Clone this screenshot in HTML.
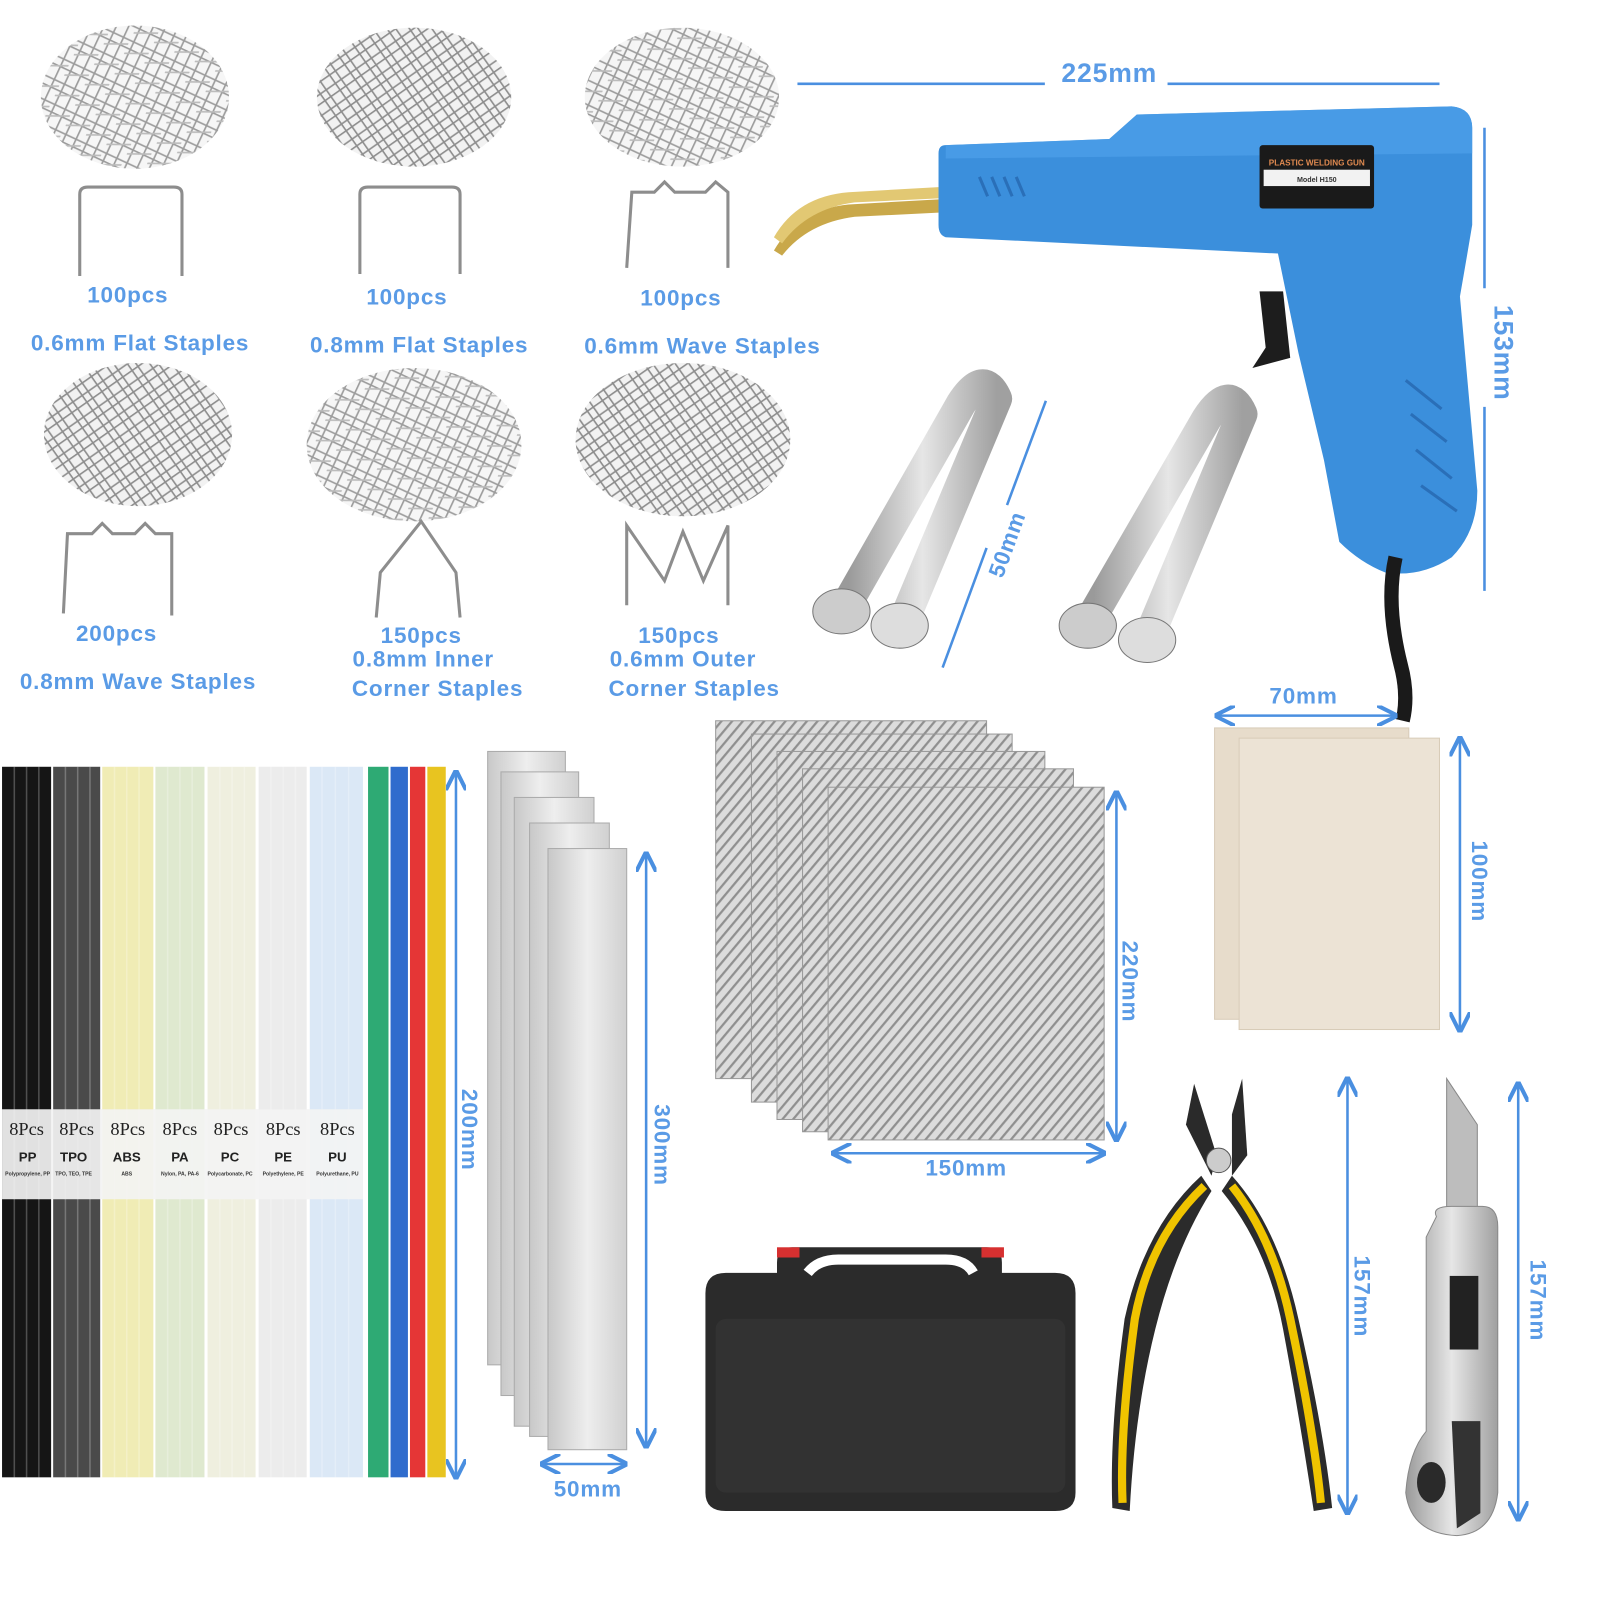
<!DOCTYPE html>
<html><head><meta charset="utf-8"><style>
html,body{margin:0;padding:0;background:#fff;width:1600px;height:1600px;overflow:hidden}
svg{display:block}
text{font-family:"Liberation Sans",sans-serif;font-weight:bold;fill:#5a9be6}
.lab{letter-spacing:0.8px}
</style></head><body>
<svg width="1600" height="1600" viewBox="0 0 1565 1565" xmlns="http://www.w3.org/2000/svg">
<defs>
<pattern id="wire" width="22" height="22" patternUnits="userSpaceOnUse" patternTransform="rotate(25)">
<rect width="22" height="22" fill="#f4f4f4"/>
<path d="M0 4H22M0 12H22M4 0V22M15 0V22" stroke="#8a8a8a" stroke-width="1.6"/>
<path d="M0 18L22 8" stroke="#b0b0b0" stroke-width="1.6"/>
</pattern>
<pattern id="wire2" width="18" height="18" patternUnits="userSpaceOnUse" patternTransform="rotate(-35)">
<rect width="18" height="18" fill="#f0f0f0"/>
<path d="M0 3H18M0 11H18M6 0V18M13 0V18" stroke="#7a7a7a" stroke-width="1.6"/>
</pattern>
<pattern id="mesh" width="8" height="8" patternUnits="userSpaceOnUse" patternTransform="rotate(-50)">
<rect width="8" height="8" fill="#dcdcdc"/>
<path d="M0 2H8" stroke="#8f8f8f" stroke-width="2.2"/>
</pattern>
<linearGradient id="alu" x1="0" x2="1"><stop offset="0" stop-color="#c8c8c8"/><stop offset=".5" stop-color="#eeeeee"/><stop offset="1" stop-color="#d0d0d0"/></linearGradient>
<linearGradient id="steel" x1="0" x2="1"><stop offset="0" stop-color="#9a9a9a"/><stop offset=".5" stop-color="#e6e6e6"/><stop offset="1" stop-color="#a0a0a0"/></linearGradient>
<marker id="ar" viewBox="0 0 10 10" refX="9" refY="5" markerWidth="8" markerHeight="8" orient="auto-start-reverse"><path d="M0 0L10 5L0 10" fill="none" stroke="#4a8fe0" stroke-width="2"/></marker>
</defs>

<!-- staple piles -->
<g opacity="0.85">
<ellipse cx="132" cy="95" rx="92" ry="70" fill="url(#wire)"/>
<ellipse cx="405" cy="95" rx="95" ry="68" fill="url(#wire2)"/>
<ellipse cx="667" cy="95" rx="95" ry="68" fill="url(#wire)"/>
<ellipse cx="135" cy="425" rx="92" ry="70" fill="url(#wire2)"/>
<ellipse cx="405" cy="435" rx="105" ry="75" fill="url(#wire)"/>
<ellipse cx="668" cy="430" rx="105" ry="75" fill="url(#wire2)"/>
</g>
<!-- staple shapes -->
<g fill="none" stroke="#8d8d8d" stroke-width="3">
<path d="M78 270V190Q78 183 86 183H170Q178 183 178 190V270"/>
<path d="M352 268V190Q352 183 360 183H442Q450 183 450 190V268"/>
<path d="M613 262L618 188H640L650 178L660 188H690L700 178L712 188V262"/>
<path d="M62 600L66 522H90L100 512L110 522H132L142 512L152 522H168V602"/>
<path d="M368 604L372 560L412 510L446 560L450 604"/>
<path d="M613 592V514L650 568L668 520L688 568L712 514V592"/>
</g>

<!-- staple labels -->
<g font-size="22" text-anchor="middle" class="lab">
<text x="125" y="296">100pcs</text>
<text x="137" y="343">0.6mm Flat Staples</text>
<text x="398" y="298">100pcs</text>
<text x="410" y="345">0.8mm Flat Staples</text>
<text x="666" y="299">100pcs</text>
<text x="687" y="346">0.6mm Wave Staples</text>
<text x="114" y="627">200pcs</text>
<text x="135" y="674">0.8mm Wave Staples</text>
<text x="412" y="629">150pcs</text>
<text x="414" y="652">0.8mm Inner</text>
<text x="428" y="681">Corner Staples</text>
<text x="664" y="629">150pcs</text>
<text x="668" y="652">0.6mm Outer</text>
<text x="679" y="681">Corner Staples</text>
</g>

<!-- gun -->
<line x1="780" y1="82" x2="1022" y2="82" stroke="#4a8fe0" stroke-width="2.5"/>
<line x1="1142" y1="82" x2="1408" y2="82" stroke="#4a8fe0" stroke-width="2.5"/>
<text x="1085" y="80" font-size="26" text-anchor="middle" class="lab">225mm</text>
<line x1="1452" y1="125" x2="1452" y2="282" stroke="#4a8fe0" stroke-width="2.5"/>
<line x1="1452" y1="398" x2="1452" y2="578" stroke="#4a8fe0" stroke-width="2.5"/>
<text transform="translate(1462,345) rotate(90)" font-size="26" text-anchor="middle" class="lab">153mm</text>
<path d="M757 245Q780 205 830 200L918 195V208L836 212Q790 218 765 250Z" fill="#c9a84a"/>
<path d="M757 232Q780 192 830 188L918 183V194L836 198Q790 204 765 238Z" fill="#e2c873"/>
<path d="M925 142L1085 136L1112 112L1420 104Q1440 106 1440 125V220Q1435 250 1428 290L1445 480Q1445 520 1420 545Q1390 565 1355 560Q1330 550 1310 530L1295 450L1270 345L1250 248L925 232Q918 230 918 220V150Q918 142 925 142Z" fill="#3b8fdc"/>
<path d="M925 142L1085 136L1112 112L1420 104Q1440 106 1440 125V150L925 155Z" fill="#4fa0ea" opacity=".7"/>
<path d="M1232 285H1255L1262 350L1225 360L1238 340Z" fill="#1d1d1d"/>
<rect x="1232" y="142" width="112" height="62" rx="3" fill="#1a1a1a"/>
<rect x="1236" y="166" width="104" height="16" fill="#f2f2f2"/>
<text x="1288" y="162" font-size="8" text-anchor="middle" style="fill:#e08a50">PLASTIC WELDING GUN</text>
<text x="1288" y="178" font-size="7" text-anchor="middle" style="fill:#333">Model H150</text>
<g stroke="#2a6fb8" stroke-width="3"><path d="M958 173L966 192M970 173L978 192M982 173L990 192M994 173L1002 192"/>
<path d="M1375 372L1410 400M1380 405L1415 432M1385 440L1420 468M1390 475L1425 500"/></g>
<path d="M1365 545Q1355 590 1370 650Q1378 680 1372 705" stroke="#1a1a1a" stroke-width="14" fill="none"/>

<!-- nozzles -->
<g fill="none" stroke="url(#steel)" stroke-width="30" stroke-linejoin="round" stroke-linecap="round">
<path d="M830 588L940 395Q962 360 975 390L885 605"/>
<path d="M1070 600L1180 410Q1202 375 1215 405L1125 620"/>
</g>
<g stroke="#777">
<ellipse cx="823" cy="598" rx="28" ry="22" fill="#ccc"/>
<ellipse cx="880" cy="612" rx="28" ry="22" fill="#ddd"/>
<ellipse cx="1064" cy="612" rx="28" ry="22" fill="#ccc"/>
<ellipse cx="1122" cy="626" rx="28" ry="22" fill="#ddd"/>
</g>
<line x1="1023" y1="392" x2="985" y2="494" stroke="#4a8fe0" stroke-width="2.5"/>
<line x1="965" y1="536" x2="922" y2="653" stroke="#4a8fe0" stroke-width="2.5"/>
<text transform="translate(992,535) rotate(-70)" font-size="22" text-anchor="middle" class="lab">50mm</text>

<!-- rods -->
<g>
<rect x="2" y="750" width="48" height="695" fill="#151515"/>
<rect x="52" y="750" width="46" height="695" fill="#4a4a4a"/>
<rect x="100" y="750" width="50" height="695" fill="#f0ecb5"/>
<rect x="152" y="750" width="48" height="695" fill="#dfe9cf"/>
<rect x="203" y="750" width="47" height="695" fill="#efefdf"/>
<rect x="253" y="750" width="47" height="695" fill="#ececec"/>
<rect x="303" y="750" width="52" height="695" fill="#dbe8f6"/>
<rect x="360" y="750" width="20" height="695" fill="#2eaa74"/>
<rect x="382" y="750" width="17" height="695" fill="#2f6ccd"/>
<rect x="401" y="750" width="15" height="695" fill="#e53636"/>
<rect x="418" y="750" width="18" height="695" fill="#e8c420"/>
<g stroke="#fff" stroke-opacity=".25" stroke-width="1.5">
<path d="M14 750V1445M26 750V1445M38 750V1445M64 750V1445M76 750V1445M88 750V1445M112 750V1445M124 750V1445M136 750V1445M164 750V1445M176 750V1445M188 750V1445M215 750V1445M227 750V1445M239 750V1445M265 750V1445M277 750V1445M289 750V1445M315 750V1445M328 750V1445M341 750V1445"/></g>
<rect x="2" y="1085" width="353" height="88" fill="#f3f3f3" opacity=".92"/>
<g font-size="18" text-anchor="middle">
<text x="26" y="1110" style="fill:#222;font-weight:normal;font-family:'Liberation Serif',serif">8Pcs</text>
<text x="75" y="1110" style="fill:#222;font-weight:normal;font-family:'Liberation Serif',serif">8Pcs</text>
<text x="125" y="1110" style="fill:#222;font-weight:normal;font-family:'Liberation Serif',serif">8Pcs</text>
<text x="176" y="1110" style="fill:#222;font-weight:normal;font-family:'Liberation Serif',serif">8Pcs</text>
<text x="226" y="1110" style="fill:#222;font-weight:normal;font-family:'Liberation Serif',serif">8Pcs</text>
<text x="277" y="1110" style="fill:#222;font-weight:normal;font-family:'Liberation Serif',serif">8Pcs</text>
<text x="330" y="1110" style="fill:#222;font-weight:normal;font-family:'Liberation Serif',serif">8Pcs</text>
</g>
<g font-size="13" text-anchor="middle">
<text x="27" y="1136" style="fill:#222">PP</text><text x="72" y="1136" style="fill:#222">TPO</text><text x="124" y="1136" style="fill:#222">ABS</text><text x="176" y="1136" style="fill:#222">PA</text><text x="225" y="1136" style="fill:#222">PC</text><text x="277" y="1136" style="fill:#222">PE</text><text x="330" y="1136" style="fill:#222">PU</text>
</g>
<g font-size="5" text-anchor="middle" style="font-weight:normal">
<text x="27" y="1150" style="fill:#333">Polypropylene, PP</text><text x="72" y="1150" style="fill:#333">TPO, TEO, TPE</text><text x="124" y="1150" style="fill:#333">ABS</text><text x="176" y="1150" style="fill:#333">Nylon, PA, PA-6</text><text x="225" y="1150" style="fill:#333">Polycarbonate, PC</text><text x="277" y="1150" style="fill:#333">Polyethylene, PE</text><text x="330" y="1150" style="fill:#333">Polyurethane, PU</text>
</g>
</g>
<line x1="446" y1="755" x2="446" y2="1445" stroke="#4a8fe0" stroke-width="2.5" marker-start="url(#ar)" marker-end="url(#ar)"/>
<text transform="translate(452,1105) rotate(90)" font-size="22" text-anchor="middle" class="lab">200mm</text>

<!-- aluminum strips -->
<g stroke="#aaa" stroke-width="1">
<rect x="477" y="735" width="76" height="600" fill="url(#alu)"/>
<rect x="490" y="755" width="76" height="610" fill="url(#alu)"/>
<rect x="503" y="780" width="78" height="615" fill="url(#alu)"/>
<rect x="518" y="805" width="78" height="600" fill="url(#alu)"/>
<rect x="536" y="830" width="77" height="588" fill="url(#alu)"/>
</g>
<line x1="632" y1="835" x2="632" y2="1415" stroke="#4a8fe0" stroke-width="2.5" marker-start="url(#ar)" marker-end="url(#ar)"/>
<text transform="translate(640,1120) rotate(90)" font-size="22" text-anchor="middle" class="lab">300mm</text>
<line x1="530" y1="1432" x2="612" y2="1432" stroke="#4a8fe0" stroke-width="2.5" marker-start="url(#ar)" marker-end="url(#ar)"/>
<text x="575" y="1464" font-size="22" text-anchor="middle" class="lab">50mm</text>

<!-- mesh -->
<g stroke="#999">
<rect x="700" y="705" width="265" height="350" fill="url(#mesh)"/>
<rect x="735" y="718" width="255" height="360" fill="url(#mesh)"/>
<rect x="760" y="735" width="262" height="360" fill="url(#mesh)"/>
<rect x="785" y="752" width="265" height="355" fill="url(#mesh)"/>
<rect x="810" y="770" width="270" height="345" fill="url(#mesh)"/>
</g>
<line x1="1092" y1="775" x2="1092" y2="1115" stroke="#4a8fe0" stroke-width="2.5" marker-start="url(#ar)" marker-end="url(#ar)"/>
<text transform="translate(1098,960) rotate(90)" font-size="22" text-anchor="middle" class="lab">220mm</text>
<line x1="815" y1="1128" x2="1080" y2="1128" stroke="#4a8fe0" stroke-width="2.5" marker-start="url(#ar)" marker-end="url(#ar)"/>
<text x="945" y="1150" font-size="22" text-anchor="middle" class="lab">150mm</text>

<!-- sandpaper -->
<rect x="1188" y="712" width="190" height="285" fill="#e7dccb" stroke="#d8ccb8"/>
<rect x="1212" y="722" width="196" height="285" fill="#ece3d5" stroke="#d8ccb8"/>
<line x1="1190" y1="700" x2="1365" y2="700" stroke="#4a8fe0" stroke-width="2.5" marker-start="url(#ar)" marker-end="url(#ar)"/>
<text x="1275" y="688" font-size="22" text-anchor="middle" class="lab">70mm</text>
<line x1="1428" y1="722" x2="1428" y2="1008" stroke="#4a8fe0" stroke-width="2.5" marker-start="url(#ar)" marker-end="url(#ar)"/>
<text transform="translate(1440,862) rotate(90)" font-size="22" text-anchor="middle" class="lab">100mm</text>

<!-- case -->
<path d="M760 1235Q760 1220 775 1220H965Q980 1220 980 1235V1245H1032Q1052 1245 1052 1265V1460Q1052 1478 1032 1478H710Q690 1478 690 1460V1265Q690 1245 710 1245H760Z" fill="#2b2b2b"/>
<path d="M790 1245Q800 1232 820 1232H925Q945 1232 952 1245" fill="none" stroke="#fff" stroke-width="10"/>
<rect x="760" y="1220" width="22" height="10" fill="#d63030"/>
<rect x="960" y="1220" width="22" height="10" fill="#d63030"/>
<rect x="700" y="1290" width="342" height="170" fill="#323232" rx="10"/>

<!-- pliers -->
<path d="M1168 1060L1190 1130L1185 1150L1160 1100Z" fill="#2a2a2a"/>
<path d="M1215 1055L1220 1130L1205 1150L1205 1090Z" fill="#2a2a2a"/>
<circle cx="1192" cy="1135" r="12" fill="#ccc" stroke="#555"/>
<path d="M1175 1150Q1120 1200 1100 1290Q1085 1400 1088 1475L1105 1478Q1110 1380 1130 1300Q1150 1220 1185 1165Z" fill="#2b2b2b"/>
<path d="M1178 1160Q1125 1210 1110 1290Q1095 1400 1098 1470" fill="none" stroke="#f0c400" stroke-width="8"/>
<path d="M1205 1150Q1250 1200 1270 1290Q1295 1400 1303 1475L1285 1478Q1270 1380 1255 1300Q1240 1220 1195 1165Z" fill="#2b2b2b"/>
<path d="M1205 1160Q1245 1210 1262 1290Q1285 1400 1292 1470" fill="none" stroke="#f0c400" stroke-width="8"/>
<line x1="1318" y1="1055" x2="1318" y2="1480" stroke="#4a8fe0" stroke-width="2.5" marker-start="url(#ar)" marker-end="url(#ar)"/>
<text transform="translate(1325,1268) rotate(90)" font-size="22" text-anchor="middle" class="lab">157mm</text>

<!-- knife -->
<path d="M1415 1055L1445 1100V1190L1415 1190Z" fill="#bdbdbd" stroke="#888"/>
<path d="M1405 1190Q1400 1180 1420 1180H1450Q1465 1180 1465 1200V1460Q1460 1500 1425 1502Q1380 1500 1375 1460Q1378 1420 1395 1400V1210Z" fill="url(#steel)" stroke="#888"/>
<rect x="1418" y="1248" width="28" height="72" fill="#222"/>
<path d="M1420 1390H1448V1480L1425 1495Z" fill="#333"/>
<ellipse cx="1400" cy="1450" rx="14" ry="20" fill="#2a2a2a"/>
<line x1="1485" y1="1060" x2="1485" y2="1486" stroke="#4a8fe0" stroke-width="2.5" marker-start="url(#ar)" marker-end="url(#ar)"/>
<text transform="translate(1497,1272) rotate(90)" font-size="22" text-anchor="middle" class="lab">157mm</text>
</svg>
</body></html>
